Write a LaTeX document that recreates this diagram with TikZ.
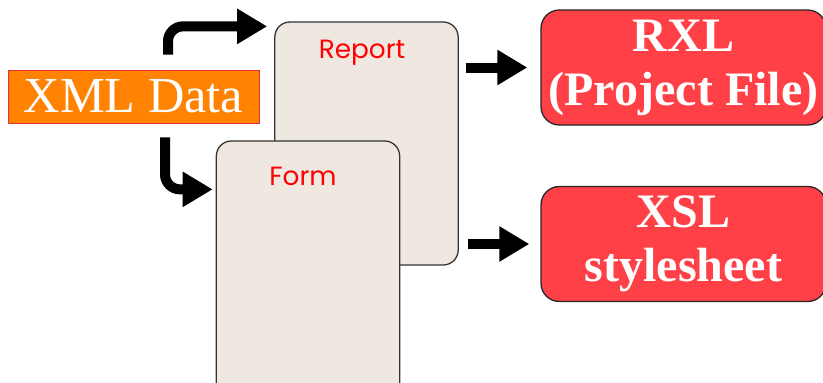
\documentclass[tikz,border=0pt]{standalone}
\usepackage{fontspec}
\setmainfont{Liberation Serif}
\newfontfamily\geo{Poppins}
\usetikzlibrary{arrows.meta,calc}
\definecolor{xmlorange}{HTML}{FF8200}
\definecolor{xmlrim}{HTML}{E8303A}
\definecolor{paper}{HTML}{EFE8E1}
\definecolor{outred}{HTML}{FF4046}

\begin{document}
\begin{tikzpicture}[x=0.03cm,y=-0.03cm,
  card/.style={draw=black!80,line width=1.1pt,fill=paper,rounded corners=0.45cm,minimum width=5.5cm,inner sep=0pt},
  outbox/.style={draw=black!85,line width=1.1pt,fill=outred,rounded corners=0.55cm,minimum width=8.55cm,minimum height=3.45cm,inner sep=0pt,
    text=white,align=center,font=\bfseries\fontsize{41}{46}\selectfont},
  cardlbl/.style={text=red,font=\geo\fontsize{22.5}{22.5}\selectfont},
  fat/.style={line width=0.3cm,-{Triangle[length=0.9cm,width=1.0cm]}}]
\useasboundingbox (0,0) rectangle (823,382);
\clip (0,0) rectangle (823,382);

\node[draw=xmlrim,line width=0.6pt,fill=xmlorange,minimum width=7.53cm,minimum height=1.59cm,inner sep=0pt,
  text=white,font=\fontsize{43}{43}\selectfont] (X) at (133.5,96.5) {XML Data};

\node[card,minimum height=7.29cm] (R) at (366.5,143.5) {};
\node[cardlbl] (Rt) at (362,53) {Report};
\node[card,minimum height=8.1cm] (F) at (308,276) {};
\node[cardlbl] (Ft) at (303,176) {Form};

\node[outbox] (A) at (683.5,67.5) {RXL\\(Project File)};
\node[outbox] (B) at (683.5,244) {XSL\\stylesheet};

\draw[fat,rounded corners=0.45cm] ($(X.north)+(34.5,-15)$) |- ($(R.north west)+(-7,5)$);
\draw[fat,rounded corners=0.45cm] ($(X.south)+(31.5,14)$) |- ($(F.north west)+(-3,49)$);
\draw[fat,shorten <=0.21cm,shorten >=0.39cm] (R.east |- A.west) -- (A.west);
\draw[fat,shorten <=0.27cm,shorten >=0.33cm] (R.east |- B.west) -- (B.west);
\end{tikzpicture}
\end{document}
